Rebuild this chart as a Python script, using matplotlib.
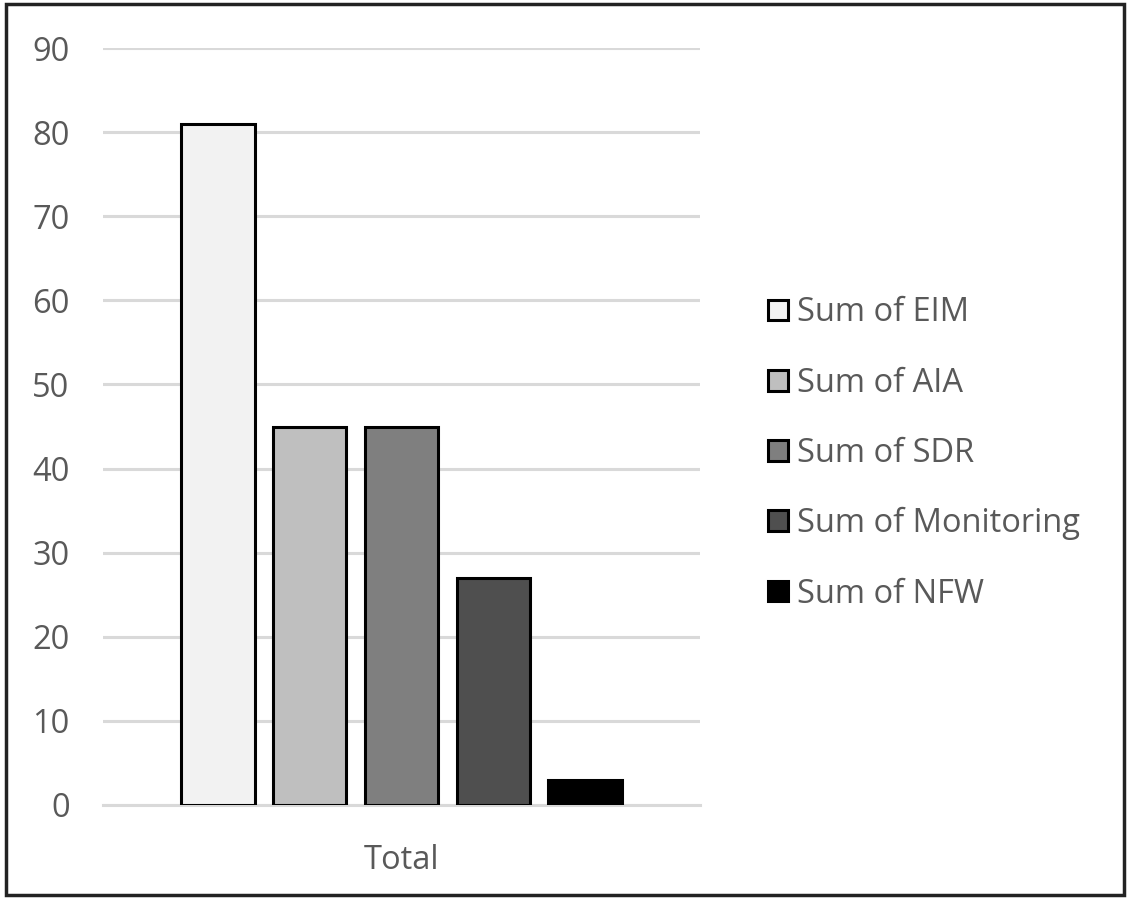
import matplotlib
matplotlib.use('Agg')
import matplotlib.pyplot as plt
import matplotlib.patches as patches

plt.rcParams['font.family'] = ['Open Sans', 'DejaVu Sans']

# Series totals
series = ['Sum of EIM', 'Sum of AIA', 'Sum of SDR', 'Sum of Monitoring', 'Sum of NFW']
totals = [81, 45, 45, 27, 3]
category = 'Total'

# Grey fills, light to dark
FILLS = ['#f2f2f2', '#bfbfbf', '#7f7f7f', '#4f4f4f', '#000000']
TEXT = '#595959'
GRID = '#d9d9d9'
FS = 23.5

fig = plt.figure(figsize=(11.27, 8.98), dpi=100)
ax = fig.add_axes([0.0914, 0.1036, 0.5297, 0.8429])

n = len(series)
for i, (name, val, col) in enumerate(zip(series, totals, FILLS)):
    ax.bar(i - (n - 1) / 2, val, width=0.8, color=col, edgecolor='black',
           linewidth=2.2, label=name, zorder=3)

ax.set_xlim(-3.25, 3.25)
ax.set_ylim(0, 90)
ax.set_yticks(range(0, 91, 10))
ax.yaxis.grid(True, color=GRID, linewidth=2.2, zorder=0)
ax.set_xticks([0])
ax.set_xticklabels([category])
ax.tick_params(axis='both', length=0, labelsize=FS, labelcolor=TEXT)
ax.tick_params(axis='y', pad=24)
ax.tick_params(axis='x', pad=28)
for side in ['top', 'right', 'left']:
    ax.spines[side].set_visible(False)
ax.spines['bottom'].set_color(GRID)
ax.spines['bottom'].set_linewidth(2.2)

leg = fig.legend(loc='center left', bbox_to_anchor=(0.6815, 0.495), frameon=False,
                 borderpad=0, borderaxespad=0,
                 fontsize=FS, labelcolor=TEXT, handlelength=0.6, handleheight=0.6,
                 handletextpad=0.3, labelspacing=1.14)
for h in leg.legend_handles:
    h.set_linewidth(2.2)

# Outer frame
fig.patches.append(patches.Rectangle((0.005, 0.003), 0.992, 0.993, transform=fig.transFigure,
                                     fill=False, edgecolor='#222222', linewidth=2.5))

fig.savefig('out.png', dpi=100)
